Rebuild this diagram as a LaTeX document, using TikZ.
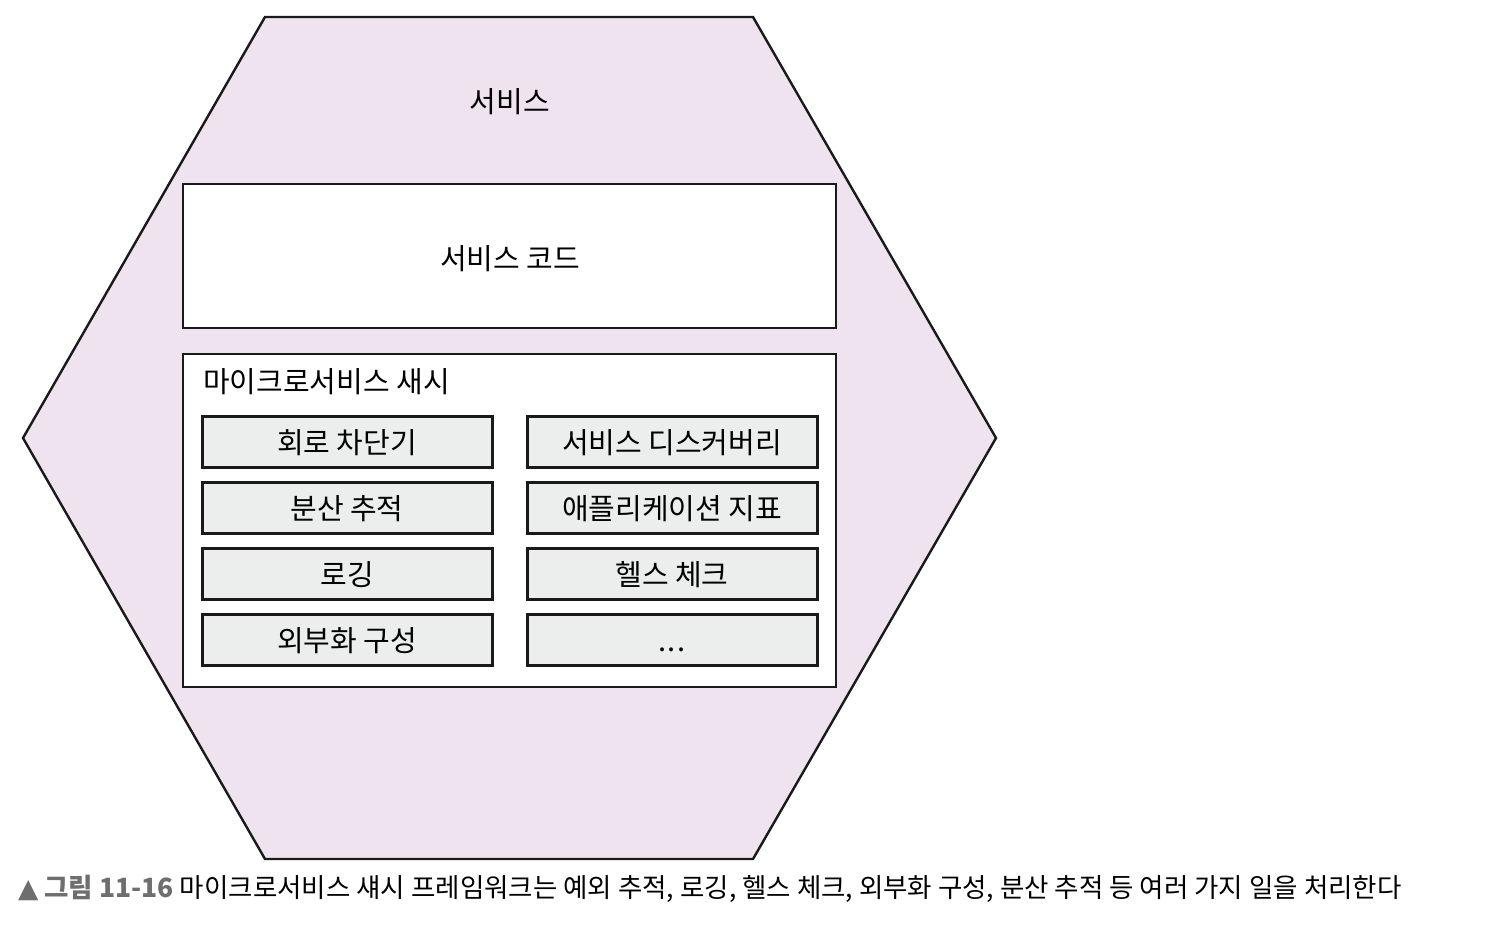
\documentclass[tikz,border=0pt]{standalone}
\usepackage{fontspec}
\setmainfont{Noto Sans CJK KR}
\newfontfamily\symfont{DejaVu Sans}
\definecolor{hexfill}{HTML}{EFE3F0}
\definecolor{boxfill}{HTML}{ECEDED}
\definecolor{capgray}{HTML}{6E6E6E}
\definecolor{linec}{HTML}{1A1A1A}
\begin{document}
\begin{tikzpicture}[x=1pt,y=-1pt,
  outerbox/.style={draw=linec,line width=2pt,fill=white},
  itembox/.style={draw=linec,line width=3pt,fill=boxfill,minimum width=290pt,minimum height=51pt,inner sep=0pt,text height=25pt,text depth=2pt,font=\fontsize{29}{32}\selectfont},
  lbl/.style={inner sep=0pt,font=\fontsize{29}{32}\selectfont}]
\useasboundingbox (0,0) rectangle (1490,938);
\fill[white] (0,0) rectangle (1490,938);
% hexagon
\draw[linec,line width=2.4pt,fill=hexfill,line join=miter]
  (265,17) coordinate (h1) -- (753,17) coordinate (h2) -- (996,438) coordinate (h3)
  -- (753,859) coordinate (h4) -- (265,859) coordinate (h5) -- (23,438) coordinate (h6) -- cycle;
\node[lbl] (svc) at (510,102) {서비스};
% service code box
\draw[outerbox] (183,184) rectangle (836,328);
\node[lbl] (code) at (510,259) {서비스 코드};
% chassis box
\draw[outerbox] (183,354) rectangle (836,687);
\node[lbl,anchor=west] (chassis) at (203,382) {마이크로서비스 새시};
% items
\node[itembox] (b1) at (347,441.5) {회로 차단기};
\node[itembox] (b2) at (347,507.5) {분산 추적};
\node[itembox] (b3) at (347,573.5) {로깅};
\node[itembox] (b4) at (347,640) {외부화 구성};
\node[itembox] (b5) at (672,441.5) {서비스 디스커버리};
\node[itembox] (b6) at (672,507.5) {애플리케이션 지표};
\node[itembox] (b7) at (672,573.5) {헬스 체크};
\node[itembox] (b8) at (672,640) {.\kern1pt.\kern1pt.};
% caption
\node[anchor=base west,inner sep=0pt,font=\fontsize{26.5}{29}\selectfont] (cap) at (18,897)
 {{\color{capgray}{\symfont ▲}\ \textbf{그림 11-16}} 마이크로서비스 섀시 프레임워크는 예외 추적, 로깅, 헬스 체크, 외부화 구성, 분산 추적 등 여러 가지 일을 처리한다};
\end{tikzpicture}
\end{document}
